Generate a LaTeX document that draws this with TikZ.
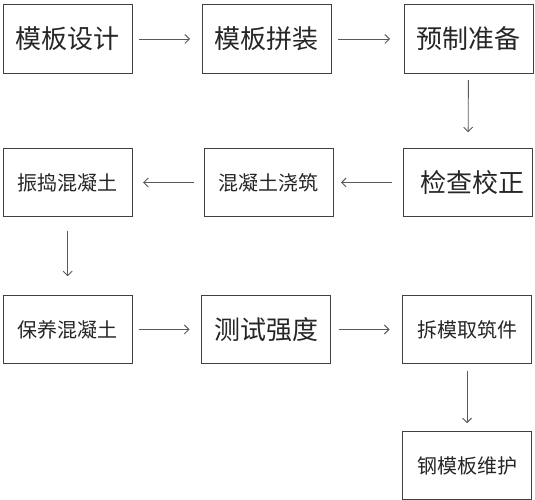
\documentclass[tikz,border=0pt]{standalone}
\usepackage{fontspec}
\newfontfamily\cjk{Noto Sans CJK SC}
\usetikzlibrary{arrows.meta}
\begin{document}
\begin{tikzpicture}[x=1pt,y=1pt,inner sep=0pt,outer sep=0pt,line width=0.9pt,
>={Straight Barb[length=4.5pt,width=9pt]},
stepbox/.style={draw=black!75,rectangle,minimum width=129pt,minimum height=68.5pt,text=black!85},
bigtxt/.style={font=\cjk\fontsize{26}{30}\selectfont},
smalltxt/.style={font=\cjk\fontsize{20}{24}\selectfont},
flow/.style={->,draw=black!65}]
\useasboundingbox (0,0) rectangle (535,500);
% first row
\draw (67.7,461) node[stepbox,bigtxt] (design) {模板设计};
\draw (266.5,461) node[stepbox,bigtxt] (assemble) {模板拼装};
\draw (468.5,461) node[stepbox,bigtxt] (prepare) {预制准备};
% second row
\draw (468,317.5) node[stepbox,bigtxt] (check) {\hspace*{8pt}检查校正};
\draw (268.5,317.5) node[stepbox,smalltxt] (pour) {混凝土浇筑};
\draw (67.7,317.5) node[stepbox,smalltxt] (vibrate) {振捣混凝土};
% third row
\draw (67.7,170.5) node[stepbox,smalltxt] (cure) {保养混凝土};
\draw (266,170.5) node[stepbox,bigtxt] (test) {测试强度};
\draw (467,170.5) node[stepbox,smalltxt] (strip) {拆模取筑件};
% last box
\draw (467,34.5) node[stepbox,smalltxt] (repair) {钢模板维护};
\draw[flow,shorten <=6.5pt,shorten >=12pt] (design) -- (assemble);
\draw[flow,shorten <=7pt,shorten >=14pt] (assemble) -- (prepare);
\draw[flow,shorten <=7pt,shorten >=16pt] (prepare) -- (check);
\draw[flow,shorten <=12pt,shorten >=8pt] (check) -- (pour);
\draw[flow,shorten <=10pt,shorten >=11pt] (pour) -- (vibrate);
\draw[flow,shorten <=14pt,shorten >=19pt] (vibrate) -- (cure);
\draw[flow,shorten <=6.5pt,shorten >=12pt] (cure) -- (test);
\draw[flow,shorten <=8pt,shorten >=13pt] (test) -- (strip);
\draw[flow,shorten <=7pt,shorten >=8pt] (strip) -- (repair);
\end{tikzpicture}
\end{document}
